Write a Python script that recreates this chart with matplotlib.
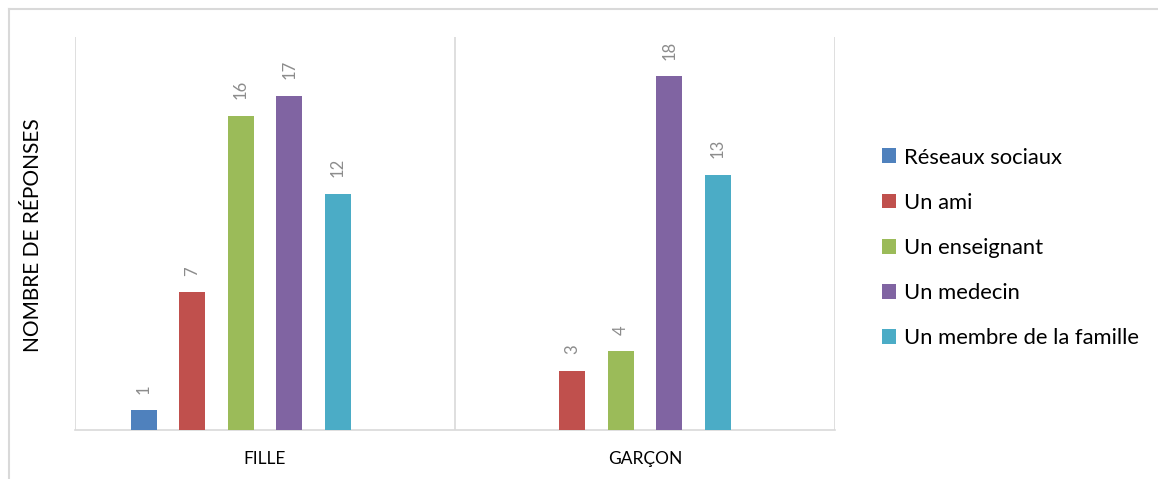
import matplotlib.pyplot as plt
import numpy as np
from matplotlib.patches import Patch

plt.rcParams['font.family'] = ['Lato', 'DejaVu Sans']

categories = ["FILLE", "GARÇON"]
series = ["Réseaux sociaux", "Un ami", "Un enseignant", "Un medecin", "Un membre de la famille"]
values = [
    [1, 0],    # Réseaux sociaux
    [7, 3],    # Un ami
    [16, 4],   # Un enseignant
    [17, 18],  # Un medecin
    [12, 13],  # Un membre de la famille
]
colors = ["#4F81BD", "#C0504D", "#9BBB59", "#8064A2", "#4BACC6"]

fig = plt.figure(figsize=(11.58, 4.79), dpi=100)
ax = fig.add_axes([75 / 1158, 1 - 430 / 479, 760 / 1158, 393 / 479])

x = np.arange(len(categories))
step = 0.1276
width = 0.068
for i, (name, vals, c) in enumerate(zip(series, values, colors)):
    pos = x + (i - 2.5) * step
    for p, v in zip(pos, vals):
        if v == 0:
            continue
        ax.bar(p, v, width=width, color=c, zorder=3)
        ax.text(p, v + 0.85, str(v), rotation=90, ha="center", va="bottom",
                fontsize=12, color="#8c8c8c")

ax.set_xlim(-0.5, 1.5)
ax.set_ylim(0, 20)
ax.set_yticks([])
ax.set_xticks(x)
ax.set_xticklabels(categories, fontsize=12.5)
ax.tick_params(axis="x", length=0, pad=15)
for s in ["top", "right", "left"]:
    ax.spines[s].set_visible(False)
ax.spines["bottom"].set_color("#d9d9d9")
ax.spines["bottom"].set_linewidth(1.2)
for b in [-0.5, 0.5, 1.5]:
    ax.axvline(b, color="#d9d9d9", lw=1.2, zorder=1)

fig.text(33 / 1158, 1 - 235 / 479, "NOMBRE DE RÉPONSES", rotation=90,
         ha="center", va="center", fontsize=15)

handles = [Patch(facecolor=c) for c in colors]
fig.legend(handles, series, loc="center left",
           bbox_to_anchor=(862 / 1158, 1 - 248 / 479), frameon=False,
           fontsize=15.8, handlelength=0.65, handleheight=0.65,
           handletextpad=0.35, labelspacing=1.15)

# outer chart frame (top and left edges)
fig.add_artist(plt.Line2D([9 / 1158, 1], [1 - 9 / 479, 1 - 9 / 479],
                          color="#d9d9d9", lw=1.5))
fig.add_artist(plt.Line2D([9 / 1158, 9 / 1158], [0, 1 - 9 / 479],
                          color="#d9d9d9", lw=1.5))

fig.savefig("out.png", dpi=100)
